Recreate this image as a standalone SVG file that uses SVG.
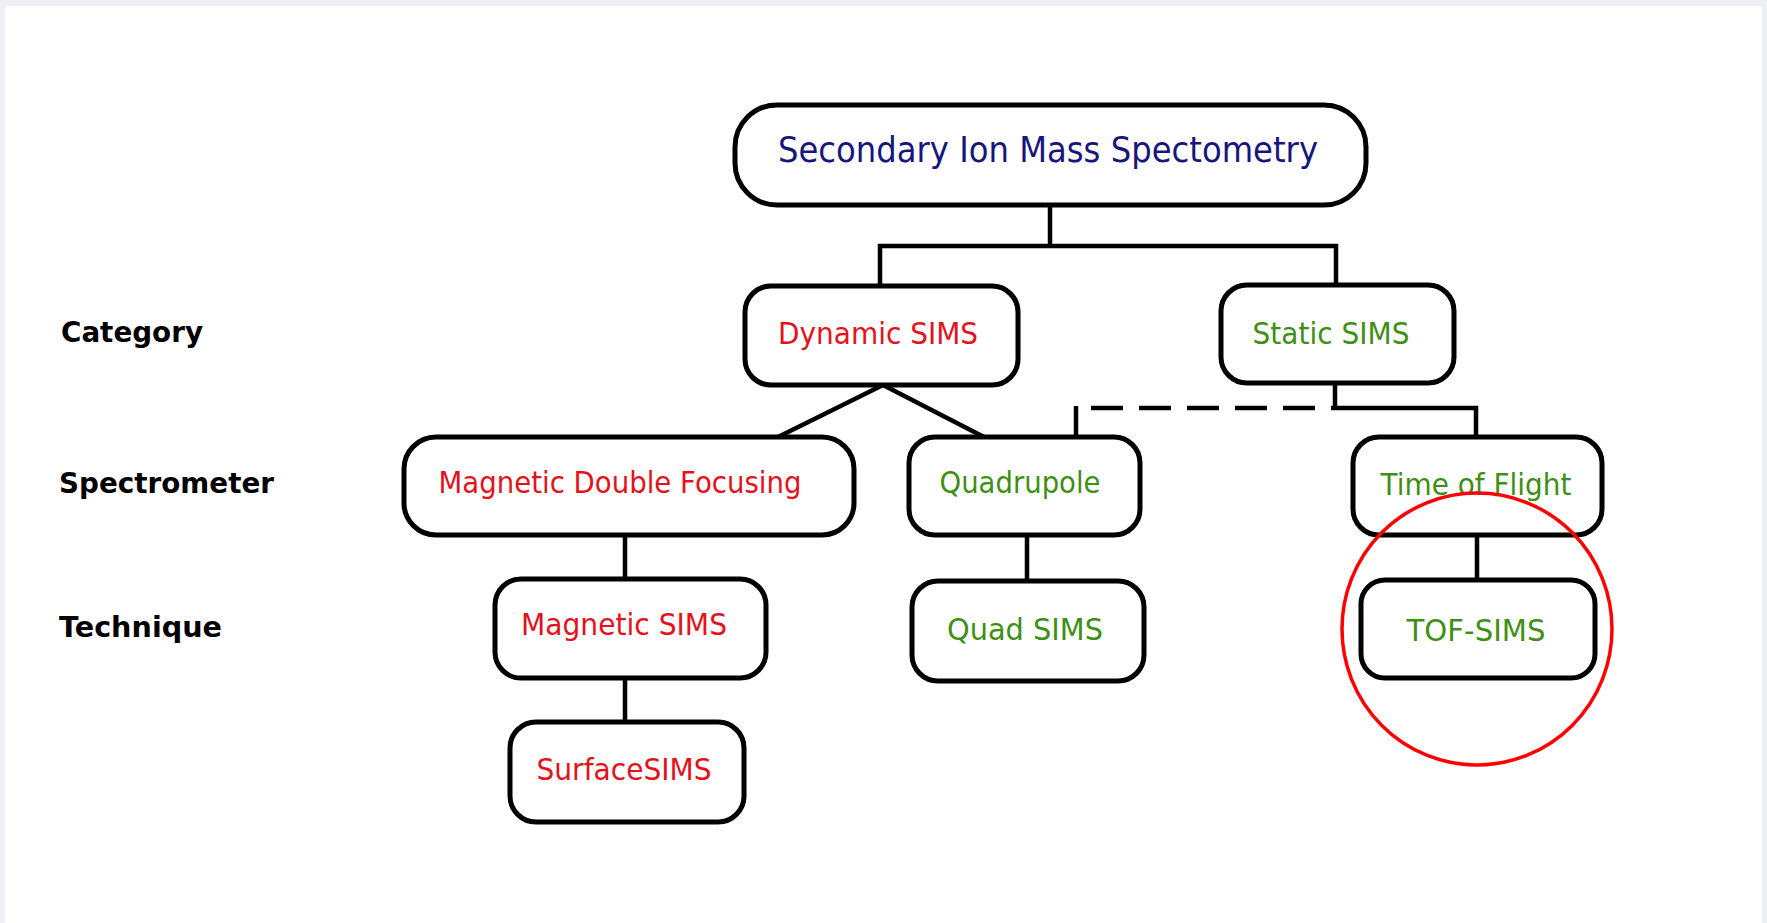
<svg xmlns="http://www.w3.org/2000/svg" width="1767" height="923" viewBox="0 0 1767 923">
<style>
.box{fill:#fff;stroke:#000;stroke-width:5}
.t{font-family:"DejaVu Sans","Liberation Sans",sans-serif;text-anchor:middle;font-size:30px}
.navy{fill:#16167c;font-size:35px}
.red{fill:#e3121c}
.green{fill:#3f8f16}
.lab{font-family:"DejaVu Sans","Liberation Sans",sans-serif;font-weight:bold;font-size:29px;fill:#000}
.ln{fill:none;stroke:#000;stroke-width:4.5}
.dash{fill:none;stroke:#000;stroke-width:4.5;stroke-dasharray:32 16}
</style>
<rect x="0" y="0" width="1767" height="923" fill="#eef0f3"/>
<rect x="5" y="6" width="1757" height="917" fill="#fff"/>
<g id="connectors">
<path class="ln" d="M1050 205V246M880 285V246H1336V285"/>
<path class="ln" d="M883 385L778 437M883 385L984 437"/>
<path class="ln" d="M1335 383V408M1331 408H1476V437"/>
<path class="dash" d="M1315 408H1091"/>
<path class="ln" d="M1076 406V437"/>
<path class="ln" d="M625 535V578M625 678V721M1027 535V580M1477 535V579"/>
</g>
<g id="labels">
<text class="lab" x="61" y="342" textLength="142" lengthAdjust="spacingAndGlyphs">Category</text>
<text class="lab" x="59" y="493" textLength="215" lengthAdjust="spacingAndGlyphs">Spectrometer</text>
<text class="lab" x="59" y="637" textLength="163" lengthAdjust="spacingAndGlyphs">Technique</text>
</g>
<g id="n-sims">
<rect class="box" x="735" y="105" width="631" height="100" rx="42"/>
<text class="t navy" x="1048" y="162" textLength="540" lengthAdjust="spacingAndGlyphs">Secondary Ion Mass Spectometry</text>
</g>
<g id="n-dynamic">
<rect class="box" x="745" y="286" width="273" height="99" rx="26"/>
<text class="t red" x="878" y="344" textLength="200" lengthAdjust="spacingAndGlyphs">Dynamic SIMS</text>
</g>
<g id="n-static">
<rect class="box" x="1221" y="285" width="233" height="98" rx="26"/>
<text class="t green" x="1331" y="344" textLength="157" lengthAdjust="spacingAndGlyphs">Static SIMS</text>
</g>
<g id="n-mdf">
<rect class="box" x="404" y="437" width="450" height="98" rx="32"/>
<text class="t red" x="620" y="493" textLength="363" lengthAdjust="spacingAndGlyphs">Magnetic Double Focusing</text>
</g>
<g id="n-quadrupole">
<rect class="box" x="909" y="437" width="231" height="98" rx="26"/>
<text class="t green" x="1020" y="493" textLength="161" lengthAdjust="spacingAndGlyphs">Quadrupole</text>
</g>
<g id="n-tof">
<rect class="box" x="1353" y="437" width="249" height="98" rx="26"/>
<text class="t green" x="1476" y="495" textLength="191" lengthAdjust="spacingAndGlyphs">Time of Flight</text>
</g>
<g id="n-magsims">
<rect class="box" x="495" y="579" width="271" height="99" rx="26"/>
<text class="t red" x="624" y="635" textLength="206" lengthAdjust="spacingAndGlyphs">Magnetic SIMS</text>
</g>
<g id="n-quadsims">
<rect class="box" x="912" y="581" width="232" height="100" rx="26"/>
<text class="t green" x="1025" y="640" textLength="156" lengthAdjust="spacingAndGlyphs">Quad SIMS</text>
</g>
<g id="n-tofsims">
<rect class="box" x="1361" y="580" width="234" height="98" rx="24"/>
<text class="t green" x="1476" y="641" textLength="139" lengthAdjust="spacingAndGlyphs">TOF-SIMS</text>
</g>
<g id="n-surfacesims">
<rect class="box" x="510" y="722" width="234" height="100" rx="26"/>
<text class="t red" x="624" y="780" textLength="175" lengthAdjust="spacingAndGlyphs">SurfaceSIMS</text>
</g>
<ellipse id="highlight" cx="1477" cy="629" rx="135" ry="136" fill="none" stroke="#f00" stroke-width="3.5"/>
</svg>
